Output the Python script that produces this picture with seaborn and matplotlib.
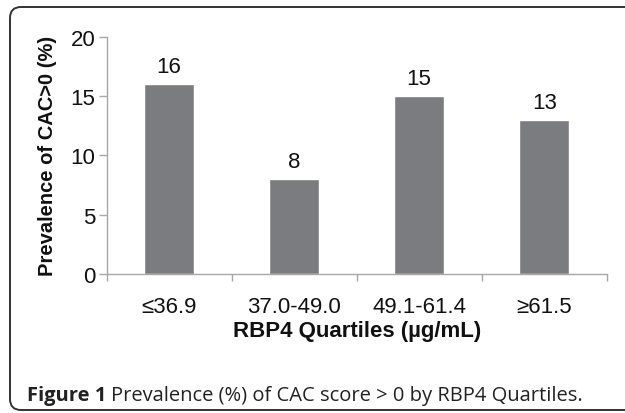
import numpy as np
import pandas as pd
import matplotlib
matplotlib.use("Agg")
import matplotlib.pyplot as plt
import matplotlib.transforms as mtransforms
from matplotlib.patches import FancyBboxPatch
import seaborn as sns

sns.set_style("white")
plt.rcParams['font.family'] = ['Liberation Sans', 'DejaVu Sans']

# data
quartiles = ["\u226436.9", "37.0-49.0", "49.1-61.4", "\u226561.5"]
prevalence = [16, 8, 15, 13]

df = pd.DataFrame({"quartile": quartiles, "prevalence": prevalence})

bar_color = "#7b7c80"
axis_color = "#a8a8a8"
text_color = "#111111"

fig = plt.figure(figsize=(6.25, 4.14), dpi=100)
ax = fig.add_axes([0.1707, 0.3365, 0.8, 0.5717])

sns.barplot(data=df, x="quartile", y="prevalence", color=bar_color,
            width=0.4, saturation=1, ax=ax)
ax.bar_label(ax.containers[0], fmt="%d", padding=5, fontsize=16, color=text_color)

ax.set_ylim(0, 20)
ax.set_xlim(-0.5, len(quartiles) - 0.5)
ax.set_yticks([0, 5, 10, 15, 20])
ax.tick_params(axis="y", labelsize=16, length=5.8, width=1, color=axis_color,
               pad=2.5, labelcolor=text_color, left=True)

# labels at centres, ticks at category boundaries
ax.set_xticks(range(len(quartiles)))
ax.set_xticklabels(quartiles)
ax.set_xticks(np.arange(-0.5, len(quartiles), 1), minor=True)
ax.tick_params(axis="x", which="major", length=0, labelsize=16, pad=16,
               labelcolor=text_color)
ax.tick_params(axis="x", which="minor", length=5.3, width=1, color=axis_color,
               bottom=True)

ax.set_xlabel("RBP4 Quartiles (\u00b5g/mL)", fontsize=16, fontweight="bold",
              color=text_color)
ax.set_ylabel("Prevalence of CAC>0 (%)", fontsize=14.5, fontweight="bold",
              color=text_color)
ax.xaxis.set_label_coords(0.5, -0.196)
ax.yaxis.set_label_coords(-0.1, 0.5)

for s in ["top", "right"]:
    ax.spines[s].set_visible(False)
for s in ["left", "bottom"]:
    ax.spines[s].set_color(axis_color)
    ax.spines[s].set_linewidth(1)

# frame around figure + caption
frame = FancyBboxPatch((10, 3), 640, 403, boxstyle="round,pad=0,rounding_size=11",
                       transform=mtransforms.IdentityTransform(),
                       facecolor="none", edgecolor="#333333", linewidth=1.4,
                       clip_on=False)
fig.patches.append(frame)

cap_font = ['Open Sans', 'DejaVu Sans']
cap_y = 1 - 401 / 414
t1 = fig.text(27 / 625, cap_y, "Figure 1", fontsize=14.5, fontweight="bold",
              family=cap_font, va="baseline", ha="left", color="#222222")
fig.canvas.draw()
bb = t1.get_window_extent()
fig.text((bb.x1 + 5) / 625, cap_y,
         "Prevalence (%) of CAC score > 0 by RBP4 Quartiles.", fontsize=14.5,
         family=cap_font, va="baseline", ha="left", color="#222222")

fig.savefig("out.png", dpi=100)
